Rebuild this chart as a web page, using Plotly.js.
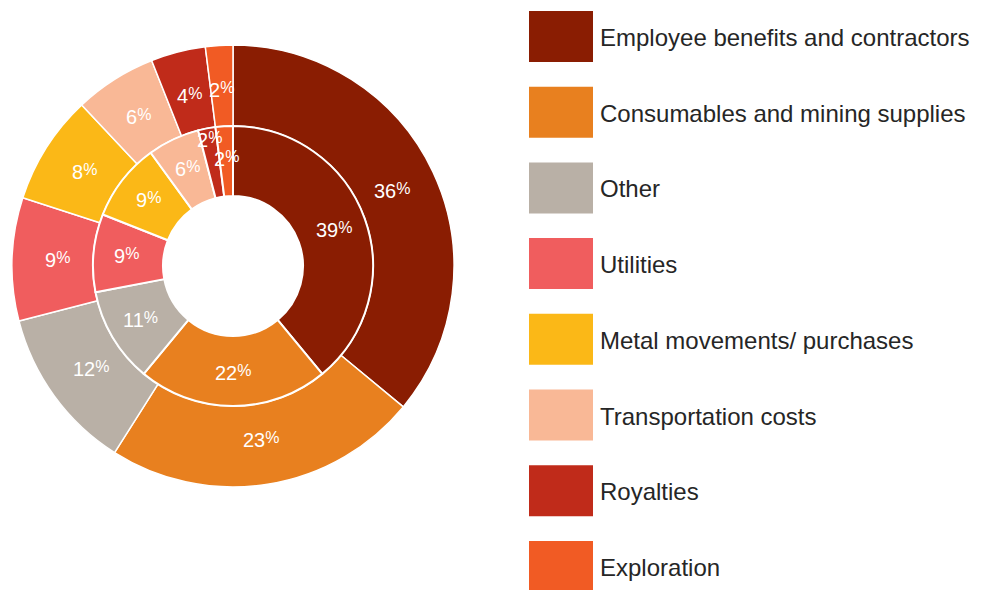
<!DOCTYPE html>
<html>
<head>
<meta charset="utf-8">
<script src="https://cdn.plot.ly/plotly-3.0.1.min.js"></script>
<style>html,body{margin:0;padding:0;background:#fff;}#chart{width:983px;height:590px;}</style>
</head>
<body>
<div id="chart"></div>
<script>
// ---- data ----
const categories = ["Employee benefits and contractors","Consumables and mining supplies","Other","Utilities","Metal movements/ purchases","Transportation costs","Royalties","Exploration"];
const outerValues = [36, 23, 12, 9, 8, 6, 4, 2];
const innerValues = [39, 22, 11, 9, 9, 6, 2, 2];
const colors = ["#8A1D02","#E8801F","#B9B0A6","#F05D5E","#FBB817","#F9B896","#C02B1A","#F15B24"];

// ---- layout constants ----
const W = 983, H = 590;
const cx = 233, cy = 266;
const R_OUT = 221, R_MID = 140, R_IN = 70;
const FONT = 'Liberation Sans, Arial, sans-serif';

function domainFor(r) {
  return {
    x: [(cx - r) / W, (cx + r) / W],
    y: [(H - cy - r) / H, (H - cy + r) / H]
  };
}

const common = {
  type: 'pie', sort: false, direction: 'clockwise', rotation: 0,
  labels: categories, textinfo: 'none', hoverinfo: 'label+value',
  showlegend: false
};

const outer = Object.assign({}, common, {
  values: outerValues, domain: domainFor(R_OUT), hole: R_MID / R_OUT,
  marker: {colors: colors, line: {color: '#ffffff', width: 1.5}}
});
const inner = Object.assign({}, common, {
  values: innerValues, domain: domainFor(R_MID), hole: R_IN / R_MID,
  marker: {colors: colors, line: {color: '#ffffff', width: 2}}
});

const annotations = [];
const shapes = [];

// label radius: mid-ring; consecutive thin slices are staggered so they don't collide
function ringLabels(values, r, rAlt) {
  const total = values.reduce((a, b) => a + b, 0);
  let cum = 0, thinCount = 0;
  values.forEach(v => {
    const mid = (cum + v / 2) / total * 2 * Math.PI;
    cum += v;
    let rr = r;
    if (v / total < 0.03 && rAlt) {
      rr = (thinCount % 2 === 0) ? rAlt : r;
      thinCount++;
    }
    const px = cx + rr * Math.sin(mid);
    const py = cy - rr * Math.cos(mid);
    annotations.push({
      xref: 'paper', yref: 'paper', x: px / W, y: (H - py) / H,
      xanchor: 'center', yanchor: 'middle', showarrow: false,
      text: v + '<span style="font-size:16px;baseline-shift:25%">%</span>',
      font: {family: FONT, size: 20, color: '#ffffff'}
    });
  });
}
ringLabels(outerValues, 176, null);
ringLabels(innerValues, 107, 128);

// ---- custom legend ----
const LEG_X0 = 529, LEG_X1 = 593, LEG_TOP = 36.5, LEG_STEP = 75.7, LEG_H = 51;
categories.forEach((c, i) => {
  const yc = LEG_TOP + i * LEG_STEP;
  shapes.push({
    type: 'rect', xref: 'paper', yref: 'paper',
    x0: LEG_X0 / W, x1: LEG_X1 / W,
    y0: (H - (yc + LEG_H / 2)) / H, y1: (H - (yc - LEG_H / 2)) / H,
    fillcolor: colors[i], line: {width: 0}
  });
  annotations.push({
    xref: 'paper', yref: 'paper', x: 598 / W, y: (H - yc - 1) / H,
    xanchor: 'left', yanchor: 'middle', showarrow: false,
    text: c,
    font: {family: FONT, size: 24, color: '#262626'}
  });
});

const layout = {
  width: W, height: H,
  margin: {l: 0, r: 0, t: 0, b: 0},
  paper_bgcolor: '#ffffff', plot_bgcolor: '#ffffff',
  showlegend: false,
  annotations: annotations,
  shapes: shapes
};

Plotly.newPlot('chart', [outer, inner], layout, {displayModeBar: false, staticPlot: true});
</script>
</body>
</html>
